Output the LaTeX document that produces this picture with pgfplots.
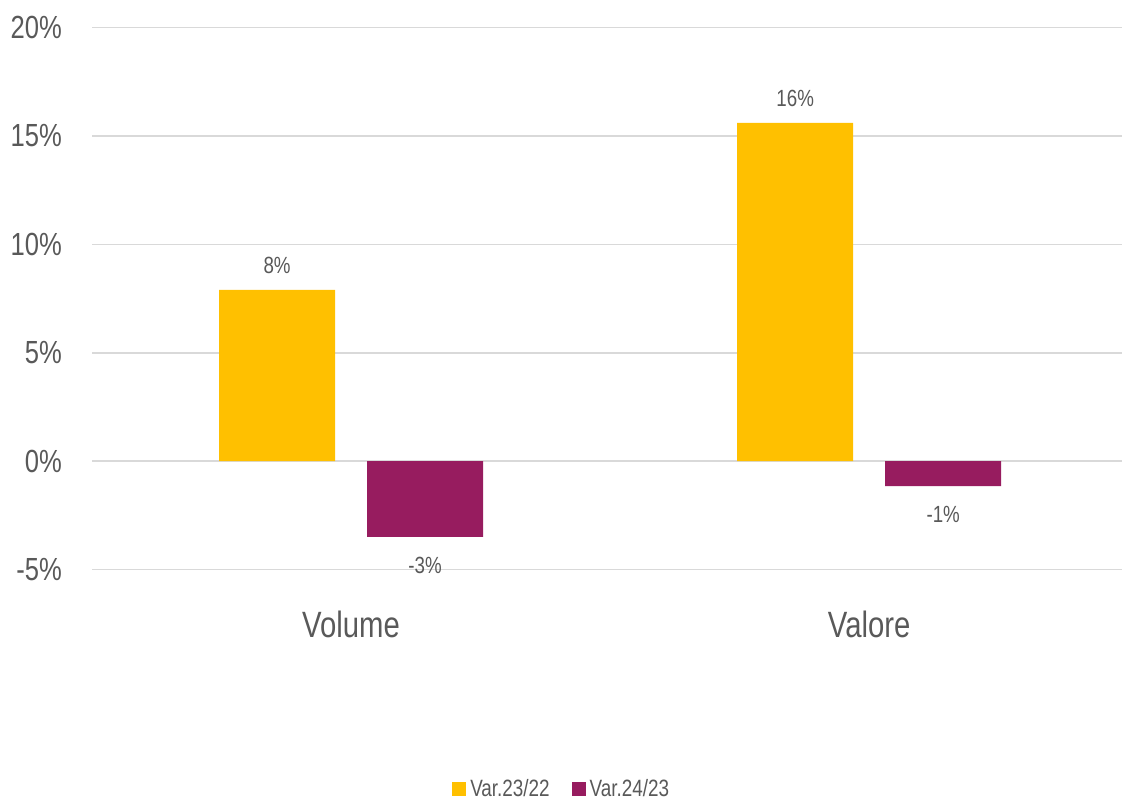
\documentclass[border=0pt]{standalone}
\usepackage{pgfplots}
\pgfplotsset{compat=1.18}
\usepackage{fontspec}
\setmainfont{Liberation Sans}[FakeStretch=0.8]
\definecolor{cyel}{HTML}{FFC000}
\definecolor{cpur}{HTML}{971C5F}
\definecolor{ctxt}{HTML}{595959}
\definecolor{cgrid}{HTML}{D9D9D9}
\begin{document}
\begin{tikzpicture}
\useasboundingbox (0,0) rectangle (561pt,400pt);
\begin{axis}[
  at={(46pt,115.25pt)}, anchor=south west,
  scale only axis, width=515pt, height=271pt,
  xmin=-0.5, xmax=1.488,
  ymin=-5, ymax=20,
  ytick={-5,0,5,10,15,20},
  yticklabels={-5\%,0\%,5\%,10\%,15\%,20\%},
  xtick={0,1},
  xticklabels={Volume,Valore},
  axis line style={draw=none},
  tick style={draw=none},
  ymajorgrids,
  grid style={cgrid, line width=0.8pt},
  yticklabel style={font=\fontsize{16}{18}\selectfont, text=ctxt, xshift=-11.5pt},
  xticklabel style={font=\fontsize{18.3}{20}\selectfont, text=ctxt, yshift=-13pt},
  ybar,
  bar width=58pt,
  point meta=explicit symbolic,
  nodes near coords,
  every node near coord/.append style={font=\fontsize{11.7}{13}\selectfont, text=ctxt, inner ysep=6pt},
  legend style={at={(0.457,-0.405)}, anchor=center, draw=none, legend columns=2,
    font=\fontsize{11.8}{13}\selectfont, text=ctxt,
    /tikz/every even column/.append style={column sep=9pt},
    inner sep=0pt},
  legend image code/.code={\fill[#1] (0pt,-3.5pt) rectangle (7pt,3.5pt);},
]
\addplot[fill=cyel, draw=none, bar shift=-37pt,
  every node near coord/.append style={anchor=south, yshift=2pt}]
  coordinates {(0,7.9) [8\%] (1,15.6) [16\%]};
\addplot[fill=cpur, draw=none, bar shift=37pt,
  every node near coord/.append style={anchor=north, yshift=-4pt}]
  coordinates {(0,-3.5) [-3\%] (1,-1.15) [-1\%]};
\legend{Var.23/22, Var.24/23}
\end{axis}
\end{tikzpicture}
\end{document}
